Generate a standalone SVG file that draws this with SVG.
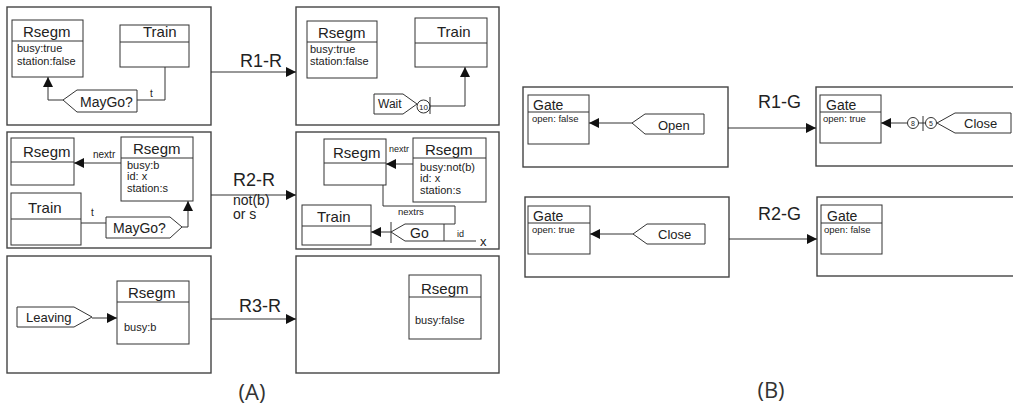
<svg xmlns="http://www.w3.org/2000/svg" width="1013" height="410" viewBox="0 0 1013 410">
<style>
text{font-family:"Liberation Sans",Arial,sans-serif;fill:#222}
.frame{fill:#fff;stroke:#444;stroke-width:1.4}
.node{fill:#fff;stroke:#333;stroke-width:1}
.hd{stroke:#333;stroke-width:1}
.t15{font-size:15px}
.t14{font-size:14px}
.a11{font-size:11px}
.lbl{font-size:9.5px}
.big{font-size:18px}
.cap{font-family:"Open Sans","Noto Sans",sans-serif;font-size:22px;fill:#333}
.ln{fill:none;stroke:#333;stroke-width:1}
.arr{fill:none;stroke:#333;stroke-width:1;marker-end:url(#ah)}
.arrb{fill:none;stroke:#333;stroke-width:1.2;marker-end:url(#ahb)}
.sh{fill:#fff;stroke:#333;stroke-width:1}
</style>
<defs>
<marker id="ah" viewBox="0 0 10 10" refX="10" refY="5" markerWidth="10" markerHeight="11" markerUnits="userSpaceOnUse" orient="auto"><path d="M0,0 L10,5 L0,10 z" fill="#111"/></marker>
<marker id="ahb" viewBox="0 0 10 10" refX="10" refY="5" markerWidth="10" markerHeight="11" markerUnits="userSpaceOnUse" orient="auto"><path d="M0,0 L10,5 L0,10 z" fill="#111"/></marker>
</defs>

<!-- frames -->
<g id="frames">
<rect id="f1" class="frame" x="7" y="7" width="204" height="118"/>
<rect id="f2" class="frame" x="296" y="7" width="203" height="118"/>
<rect id="f3" class="frame" x="7" y="132" width="204" height="116"/>
<rect id="f4" class="frame" x="296" y="132" width="203" height="117"/>
<rect id="f5" class="frame" x="7" y="256" width="204" height="117"/>
<rect id="f6" class="frame" x="296" y="256" width="203" height="117"/>
<rect id="f7" class="frame" x="523" y="87" width="205" height="80"/>
<rect id="f8" class="frame" x="816" y="87" width="210" height="79"/>
<rect id="f9" class="frame" x="525" y="197" width="204" height="80"/>
<rect id="f10" class="frame" x="817" y="197" width="210" height="79"/>
</g>

<!-- connectors -->
<g id="connectors">
<path class="arrb" d="M211,72 H296"/>
<path class="arrb" d="M211,195 H296"/>
<path class="arrb" d="M211,319 H296"/>
<path class="arrb" d="M728,128 H816"/>
<path class="arrb" d="M729,239 H817"/>
<path class="ln" d="M165,67 V100 H137"/>
<path class="arr" d="M63,100 H48 V77"/>
<path class="arr" d="M430,106 H465 V67"/>
<path class="arr" d="M121,163 H74"/>
<path class="ln" d="M81,223 H106"/>
<path class="arr" d="M182,227 H188 V201"/>
<path class="arr" d="M413,164 H386"/>
<path class="ln" d="M383,185 V206 H455 V224 H444"/>
<path class="arr" d="M391,232 H371"/>
<path class="ln" d="M444,241 H476"/>
<path class="arr" d="M92,318 H117"/>
<path class="arr" d="M632,123 H589"/>
<path class="arr" d="M907,123 H881"/>
<path class="arr" d="M633,234 H590"/>
</g>

<!-- connector labels -->
<g id="labels">
<text class="big" x="240" y="67">R1-R</text>
<text class="big" x="233" y="186">R2-R</text>
<text class="t14" x="233" y="205">not(b)</text>
<text class="t14" x="233" y="219">or s</text>
<text class="big" x="239" y="312">R3-R</text>
<text class="big" x="758" y="108">R1-G</text>
<text class="big" x="758" y="220">R2-G</text>
<text style="font-size:10px" x="150" y="97">t</text>
<text style="font-size:10px" x="93" y="158">nextr</text>
<text style="font-size:10px" x="91" y="216">t</text>
<text style="font-size:9px" x="389" y="152">nextr</text>
<text class="lbl" x="398" y="215">nextrs</text>
<text style="font-size:9px" x="457" y="237">id</text>
<text style="font-size:13px" x="480" y="246">x</text>
<text class="cap" x="252" y="400" text-anchor="middle">(A)</text>
<text class="cap" x="771" y="398" text-anchor="middle">(B)</text>
</g>

<!-- row 1 left -->
<g id="rsegm1">
<rect class="node" x="12" y="20" width="71" height="57"/><line class="hd" x1="12" y1="41" x2="83" y2="41"/>
<text class="t15" x="23" y="37">Rsegm</text>
<text class="a11" x="17" y="52">busy:true</text>
<text class="a11" x="17" y="65">station:false</text>
</g>
<g id="train1">
<rect class="node" x="120" y="25" width="69" height="42"/><line class="hd" x1="120" y1="42" x2="189" y2="42"/>
<text class="t15" x="143" y="37">Train</text>
</g>
<g id="maygo1">
<polygon class="sh" points="63,100 77,90 137,90 137,112 77,112"/>
<text class="t14" x="80" y="107">MayGo?</text>
</g>

<!-- row 1 right -->
<g id="rsegm2">
<rect class="node" x="307" y="21" width="70" height="57"/><line class="hd" x1="307" y1="42" x2="377" y2="42"/>
<text class="t15" x="318" y="38">Rsegm</text>
<text class="a11" x="310" y="53">busy:true</text>
<text class="a11" x="310" y="65">station:false</text>
</g>
<g id="train2">
<rect class="node" x="415" y="18" width="72" height="49"/><line class="hd" x1="415" y1="43" x2="487" y2="43"/>
<text class="t15" x="437" y="37">Train</text>
</g>
<g id="wait">
<polygon class="sh" points="374,94 403,94 417,104 403,114 374,114"/>
<text style="font-size:12px" x="378" y="108">Wait</text>
</g>
<g id="timer10">
<circle class="sh" cx="423.5" cy="106.5" r="6.5"/>
<text style="font-size:8px" x="423.5" y="109.5" text-anchor="middle">10</text>
<line class="ln" x1="430" y1="97" x2="430" y2="114"/>
</g>

<!-- row 2 left -->
<g id="rsegm3a">
<rect class="node" x="11" y="138" width="63" height="47"/><line class="hd" x1="11" y1="162" x2="74" y2="162"/>
<text class="t15" x="23" y="157">Rsegm</text>
</g>
<g id="rsegm3b">
<rect class="node" x="121" y="137" width="72" height="64"/><line class="hd" x1="121" y1="158" x2="193" y2="158"/>
<text class="t15" x="133" y="154">Rsegm</text>
<text class="a11" x="127" y="169">busy:b</text>
<text class="a11" x="127" y="180">id: x</text>
<text class="a11" x="127" y="192">station:s</text>
</g>
<g id="train3">
<rect class="node" x="11" y="193" width="70" height="52"/><line class="hd" x1="11" y1="219" x2="81" y2="219"/>
<text class="t15" x="28" y="213">Train</text>
</g>
<g id="maygo3">
<polygon class="sh" points="106,217 170,217 182,227 170,238 106,238"/>
<text class="t14" x="113" y="233">MayGo?</text>
</g>

<!-- row 2 right -->
<g id="rsegm4a">
<rect class="node" x="324" y="139" width="62" height="46"/><line class="hd" x1="324" y1="163" x2="386" y2="163"/>
<text class="t15" x="333" y="158">Rsegm</text>
</g>
<g id="rsegm4b">
<rect class="node" x="413" y="138" width="73" height="64"/><line class="hd" x1="413" y1="158" x2="486" y2="158"/>
<text class="t15" x="425" y="155">Rsegm</text>
<text class="a11" x="420" y="171">busy:not(b)</text>
<text class="a11" x="420" y="182">id: x</text>
<text class="a11" x="420" y="194">station:s</text>
</g>
<g id="train4">
<rect class="node" x="302" y="205" width="69" height="40"/><line class="hd" x1="302" y1="226" x2="371" y2="226"/>
<text class="t15" x="317" y="222">Train</text>
</g>
<g id="go">
<polygon class="sh" points="391,232 405,224 444,224 444,241 405,241"/>
<text class="t14" x="410" y="238">Go</text>
<line class="ln" x1="391" y1="222" x2="391" y2="243"/>
</g>

<!-- row 3 -->
<g id="leaving">
<polygon class="sh" points="17,307 74,307 92,317 74,327 17,327"/>
<text style="font-size:13px" x="26" y="322">Leaving</text>
</g>
<g id="rsegm5">
<rect class="node" x="117" y="281" width="72" height="63"/><line class="hd" x1="117" y1="302" x2="189" y2="302"/>
<text class="t15" x="128" y="298">Rsegm</text>
<text class="a11" x="124" y="331">busy:b</text>
</g>
<g id="rsegm6">
<rect class="node" x="409" y="275" width="72" height="64"/><line class="hd" x1="409" y1="297" x2="481" y2="297"/>
<text class="t15" x="421" y="294">Rsegm</text>
<text class="a11" x="415" y="324">busy:false</text>
</g>

<!-- B row 1 -->
<g id="gate1">
<rect class="node" x="528" y="95" width="61" height="49"/><line class="hd" x1="528" y1="112" x2="589" y2="112"/>
<text class="t14" x="533" y="110">Gate</text>
<text style="font-size:9.5px" x="532" y="122">open: false</text>
</g>
<g id="open">
<polygon class="sh" points="632,123 645,114 704,114 704,134 645,134"/>
<text style="font-size:13px" x="658" y="130">Open</text>
</g>
<g id="gate2">
<rect class="node" x="820" y="95" width="61" height="48"/><line class="hd" x1="820" y1="112" x2="881" y2="112"/>
<text class="t14" x="826" y="110">Gate</text>
<text style="font-size:9.5px" x="823" y="122">open: true</text>
</g>
<g id="timers">
<circle class="sh" cx="913" cy="123" r="5.5"/>
<text style="font-size:7px" x="913" y="125.5" text-anchor="middle">8</text>
<line class="ln" x1="923" y1="116" x2="923" y2="131"/>
<circle class="sh" cx="931" cy="123" r="5.5"/>
<text style="font-size:7px" x="931" y="125.5" text-anchor="middle">5</text>
<line class="ln" x1="918.5" y1="123" x2="925.5" y2="123"/>
</g>
<g id="close1">
<polygon class="sh" points="937,123 955,113 1011,113 1011,133 955,133"/>
<text style="font-size:13px" x="964" y="128">Close</text>
</g>

<!-- B row 2 -->
<g id="gate3">
<rect class="node" x="528" y="206" width="62" height="48"/><line class="hd" x1="528" y1="223" x2="590" y2="223"/>
<text class="t14" x="533" y="221">Gate</text>
<text style="font-size:9.5px" x="532" y="233">open: true</text>
</g>
<g id="close2">
<polygon class="sh" points="633,234 647,224 705,224 705,244 647,244"/>
<text style="font-size:13px" x="658" y="239">Close</text>
</g>
<g id="gate4">
<rect class="node" x="821" y="205" width="61" height="49"/><line class="hd" x1="821" y1="223" x2="882" y2="223"/>
<text class="t14" x="827" y="221">Gate</text>
<text style="font-size:9.5px" x="824" y="233">open: false</text>
</g>
</svg>
